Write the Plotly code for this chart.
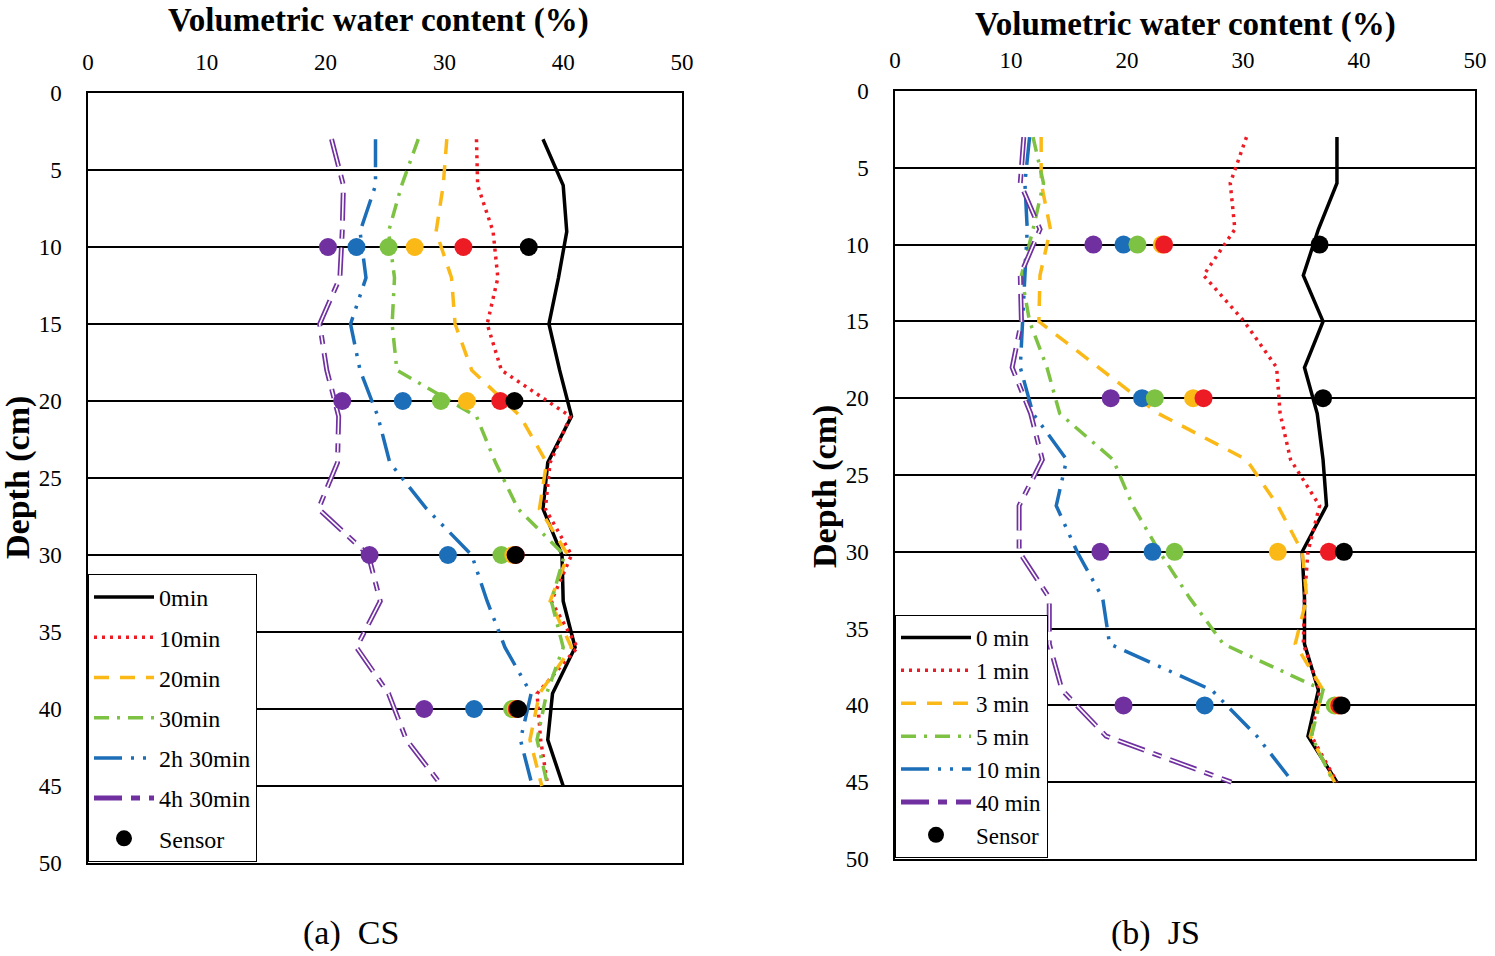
import plotly.graph_objects as go

W, H = 1495, 956

depth = [3, 6, 9, 12, 15, 18, 21, 24, 27, 30, 33, 36, 39, 42, 45]
sensor_depth = [10, 20, 30, 40]

# (a) CS
cs_names = ["0min", "10min", "20min", "30min", "2h 30min", "4h 30min"]
cs_0 = [38.3, 40.0, 40.3, 39.6, 38.8, 39.7, 40.7, 38.7, 38.3, 39.9, 40.0, 41.0, 39.1, 38.7, 40.0]
cs_10 = [32.7, 32.8, 34.1, 34.5, 33.6, 34.8, 40.6, 38.9, 38.5, 40.7, 39.0, 41.2, 37.8, 38.1, 38.7]
cs_20 = [30.2, 29.9, 29.3, 30.6, 30.9, 32.3, 36.4, 38.6, 38.0, 40.4, 38.9, 40.7, 38.0, 37.2, 38.2]
cs_30 = [27.8, 26.4, 25.3, 25.8, 25.6, 26.0, 32.7, 34.3, 36.2, 40.1, 39.0, 40.0, 38.6, 37.8, 38.7]
cs_150 = [24.2, 24.2, 22.9, 23.4, 22.1, 22.9, 24.4, 25.4, 28.5, 32.3, 33.6, 35.1, 37.3, 36.4, 37.4]
cs_270 = [20.5, 21.5, 21.4, 21.2, 19.5, 20.1, 21.1, 21.0, 19.4, 23.6, 24.6, 22.6, 25.3, 26.8, 29.8]
cs_s_0 = [37.1, 35.9, 36.0, 36.2]
cs_s_10 = [31.6, 34.7, 36.0, 36.1]
cs_s_20 = [27.5, 31.9, 35.8, 36.0]
cs_s_30 = [25.3, 29.7, 34.8, 35.7]
cs_s_150 = [22.6, 26.5, 30.3, 32.5]
cs_s_270 = [20.2, 21.4, 23.7, 28.3]

# (b) JS
js_names = ["0 min", "1 min", "3 min", "5 min", "10 min", "40 min"]
js_0 = [38.1, 38.1, 36.5, 35.2, 36.9, 35.3, 36.4, 36.9, 37.2, 35.1, 35.3, 35.3, 36.5, 35.6, 38.1]
js_1 = [30.3, 28.9, 29.3, 26.6, 30.1, 32.9, 33.2, 34.1, 36.6, 35.6, 35.3, 35.2, 36.6, 35.9, 38.1]
js_3 = [12.6, 12.6, 13.4, 12.5, 12.4, 17.5, 22.7, 30.3, 33.0, 35.1, 35.5, 34.5, 36.9, 35.8, 37.9]
js_5 = [11.9, 12.8, 11.9, 10.9, 11.6, 13.1, 14.2, 18.8, 20.5, 22.8, 25.4, 28.3, 36.9, 35.9, 37.8]
js_10 = [11.6, 11.2, 11.4, 11.2, 11.0, 10.8, 11.9, 14.8, 13.9, 15.7, 17.9, 18.5, 27.3, 31.2, 34.3]
js_40 = [11.1, 10.8, 12.5, 10.8, 10.9, 10.1, 11.7, 12.7, 10.7, 10.7, 13.3, 13.3, 14.4, 18.2, 29.0]
js_s_0 = [36.6, 36.9, 38.7, 38.5]
js_s_1 = [23.2, 26.6, 37.4, 38.3]
js_s_3 = [23.0, 25.7, 33.0, 38.2]
js_s_5 = [20.9, 22.4, 24.1, 37.9]
js_s_10 = [19.7, 21.3, 22.2, 26.7]
js_s_40 = [17.1, 18.6, 17.7, 19.7]

# ---------------- styles ----------------
colors = ["#000000", "#ED1C24", "#FBB917", "#7DC242", "#1B6EB7", "#7030A0"]
dashes = ["solid", "3px,5px", "15px,11px", "15px,8px,3px,8px",
          "28px,9px,3px,9px,3px,9px", "28px,9px,9px,9px"]
widths = [3.5, 3.5, 3.5, 3.5, 3.5, 5]
SERIF = "Liberation Serif, Times New Roman, serif"


def px_x(p):
    return p / W


def px_y(p):
    return 1 - p / H


fig = go.Figure()


def add_panel(xa, ya, legend, names, series, sensors):
    for i, (nm, vals) in enumerate(zip(names, series)):
        fig.add_trace(go.Scatter(
            x=vals, y=depth, mode="lines", name=nm,
            line=dict(color=colors[i], width=widths[i], dash=dashes[i]),
            xaxis=xa, yaxis=ya, legend=legend, legendgroup=legend + nm,
            hoverinfo="skip"))
        if i == 5:
            fig.add_trace(go.Scatter(
                x=vals, y=depth, mode="lines", showlegend=False,
                line=dict(color="white", width=1.6, dash=dashes[i]),
                xaxis=xa, yaxis=ya, legend=legend, hoverinfo="skip"))
    order = [5, 4, 3, 2, 1, 0]
    for i in order:
        fig.add_trace(go.Scatter(
            x=sensors[i], y=sensor_depth, mode="markers",
            name="Sensor", showlegend=(i == 0),
            marker=dict(color=colors[i], size=18, line=dict(width=0)),
            xaxis=xa, yaxis=ya, legend=legend, legendgroup=legend + "sensor",
            hoverinfo="skip"))


add_panel("x", "y", "legend", cs_names,
          [cs_0, cs_10, cs_20, cs_30, cs_150, cs_270],
          [cs_s_0, cs_s_10, cs_s_20, cs_s_30, cs_s_150, cs_s_270])
add_panel("x2", "y2", "legend2", js_names,
          [js_0, js_1, js_3, js_5, js_10, js_40],
          [js_s_0, js_s_1, js_s_3, js_s_5, js_s_10, js_s_40])

x_ticks = [0, 10, 20, 30, 40, 50]
y_ticks = [0, 5, 10, 15, 20, 25, 30, 35, 40, 45, 50]

xcommon = dict(range=[0, 50], tickvals=x_ticks, side="top", showgrid=False,
               zeroline=False, showline=True, linecolor="black", linewidth=1.5,
               mirror=True, ticks="", ticklabelstandoff=12,
               tickfont=dict(family=SERIF, size=23, color="black"))
ycommon = dict(range=[50, 0], tickvals=y_ticks, showgrid=True,
               gridcolor="black", gridwidth=1.5, zeroline=False, showline=True,
               linecolor="black", linewidth=1.5, mirror=True, ticks="",
               ticklabelstandoff=20,
               tickfont=dict(family=SERIF, size=23, color="black"))

legcommon = dict(bgcolor="white", bordercolor="black", borderwidth=1,
                 xanchor="left", yanchor="bottom", traceorder="grouped")

fig.update_layout(
    width=W, height=H, autosize=False,
    margin=dict(l=0, r=0, t=0, b=0),
    paper_bgcolor="white", plot_bgcolor="white",
    template="none",
    xaxis=dict(domain=[px_x(88), px_x(682)], anchor="y", **xcommon),
    yaxis=dict(domain=[px_y(863), px_y(93)], anchor="x", **ycommon),
    xaxis2=dict(domain=[px_x(895), px_x(1475)], anchor="y2", **xcommon),
    yaxis2=dict(domain=[px_y(859), px_y(91)], anchor="x2", **ycommon),
    legend=dict(x=px_x(88), y=px_y(862), itemwidth=60, tracegroupgap=6,
                font=dict(family=SERIF, size=24, color="black"),
                **legcommon),
    legend2=dict(x=px_x(895), y=px_y(858), itemwidth=70, tracegroupgap=0,
                 font=dict(family=SERIF, size=23, color="black"),
                 **legcommon),
    showlegend=True,
)

ann = [
    ("<b>Volumetric water content (%)</b>", 378, 20, 0, 33),
    ("<b>Volumetric water content (%)</b>", 1185, 25, 0, 33),
    ("<b>Depth (cm)</b>", 18, 478, -90, 34),
    ("<b>Depth (cm)</b>", 825, 487, -90, 34),
    ("(a)\u00a0\u00a0CS", 351, 933, 0, 34),
    ("(b)\u00a0\u00a0JS", 1155, 933, 0, 34),
]
for text, x, y, ang, sz in ann:
    fig.add_annotation(text=text, x=px_x(x), y=px_y(y), xref="paper",
                       yref="paper", showarrow=False, textangle=ang,
                       xanchor="center", yanchor="middle",
                       font=dict(family=SERIF, size=sz, color="black"))

fig.write_html("out.html",
               config={"displayModeBar": False},
               post_script="document.body.style.margin='0';"
                           "document.body.style.overflow='hidden';")
